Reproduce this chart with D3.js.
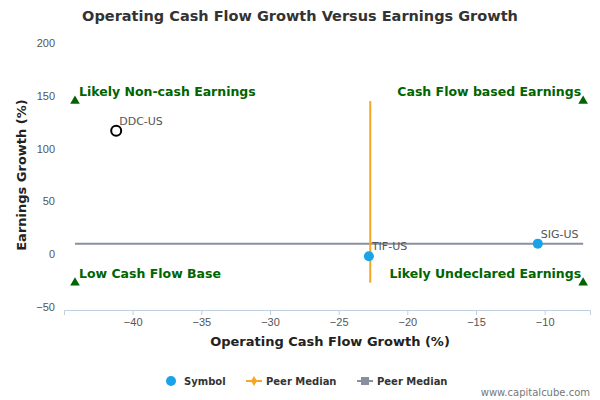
<!DOCTYPE html>
<html><head><meta charset="utf-8">
<script src="https://cdn.jsdelivr.net/npm/d3@7"></script>
<style>body{margin:0;background:#fff;font-family:"DejaVu Sans",sans-serif;}</style>
</head><body><div id="chart"></div>
<script>
var symbols = ["DDC-US", "TIF-US", "SIG-US"];
var cashGrowth = [-41.2, -22.8, -10.5];
var earnGrowth = [117, -2, 10];
var peerX = -22.7, peerY = 10;
var xTicks = [-40, -35, -30, -25, -20, -15, -10];
var yTicks = [-50, 0, 50, 100, 150, 200];
var quadLabels = ["Likely Non-cash Earnings", "Cash Flow based Earnings", "Low Cash Flow Base", "Likely Undeclared Earnings"];
var quadX = [-44.2, -7.2, -44.2, -7.2];
var quadY = [145, 145, -27, -27];

var width = 600, height = 400;
var svg = d3.select("#chart").append("svg").attr("width", width).attr("height", height);
var x = d3.scaleLinear().domain([-45, -6.7]).range([64, 590]);
var y = d3.scaleLinear().domain([-50, 200]).range([307, 43]);
var green = "#006400";

svg.append("text").attr("x", 300).attr("y", 21).attr("text-anchor", "middle")
    .attr("font-size", 14.5).attr("font-weight", "600").attr("fill", "#333").text("Operating Cash Flow Growth Versus Earnings Growth");

// axes
var xa = svg.append("g").attr("transform", "translate(0,310)")
    .call(d3.axisBottom(x).tickValues(xTicks).tickSize(5));
xa.select(".domain").attr("stroke", "#c0d0e0");
xa.selectAll(".tick line").attr("stroke", "#c0d0e0");
xa.selectAll("text").attr("font-size", 11).attr("fill", "#555");
var ya = svg.append("g").attr("transform", "translate(58,0)")
    .call(d3.axisLeft(y).tickValues(yTicks).tickSize(0));
ya.select(".domain").remove();
ya.selectAll("text").attr("font-size", 11).attr("fill", "#555");

svg.append("text").attr("x", 330).attr("y", 346).attr("text-anchor", "middle")
    .attr("font-size", 13).attr("font-weight", "bold").attr("fill", "#222").text("Operating Cash Flow Growth (%)");
svg.append("text").attr("transform", "translate(26,175) rotate(-90)").attr("text-anchor", "middle")
    .attr("font-size", 13).attr("font-weight", "bold").attr("fill", "#222").text("Earnings Growth (%)");

// peer medians
svg.append("line").attr("x1", x(-44.2)).attr("x2", x(-7.2)).attr("y1", y(peerY)).attr("y2", y(peerY))
    .attr("stroke", "#8a8f9f").attr("stroke-width", 2);
svg.append("line").attr("x1", x(peerX)).attr("x2", x(peerX)).attr("y1", y(145)).attr("y2", y(-27))
    .attr("stroke", "#f5a623").attr("stroke-width", 2);

// quadrant markers
quadLabels.forEach(function(t, i) {
    var px = x(quadX[i]), py = y(quadY[i]);
    svg.append("path").attr("d", d3.symbol().type(d3.symbolTriangle).size(40)())
        .attr("transform", "translate(" + px + "," + py + ")").attr("fill", green);
    svg.append("text").attr("x", i % 2 == 0 ? px + 4 : px - 2).attr("y", py - 5)
        .attr("text-anchor", i % 2 == 0 ? "start" : "end")
        .attr("font-size", 12.5).attr("font-weight", "bold").attr("fill", green).text(t);
});

// points
symbols.forEach(function(s, i) {
    var px = x(cashGrowth[i]), py = y(earnGrowth[i]);
    if (i == 0) {
        svg.append("circle").attr("cx", px).attr("cy", py).attr("r", 5)
            .attr("fill", "#fff").attr("stroke", "#000").attr("stroke-width", 2);
    } else {
        svg.append("circle").attr("cx", px).attr("cy", py).attr("r", 5).attr("fill", "#1aa3e8");
    }
    svg.append("text").attr("x", px + 3).attr("y", py - 6).attr("font-size", 11).attr("fill", "#555").text(s);
});

// legend
var lg = svg.append("g").attr("font-size", 10).attr("font-weight", "bold").attr("fill", "#333");
lg.append("circle").attr("cx", 171).attr("cy", 381).attr("r", 5).attr("fill", "#1aa3e8");
lg.append("text").attr("x", 184).attr("y", 385).text("Symbol");
lg.append("line").attr("x1", 246).attr("x2", 262).attr("y1", 381).attr("y2", 381).attr("stroke", "#f5a623").attr("stroke-width", 2);
lg.append("path").attr("d", d3.symbol().type(d3.symbolDiamond).size(30)()).attr("transform", "translate(254,381)").attr("fill", "#f5a623");
lg.append("text").attr("x", 266).attr("y", 385).text("Peer Median");
lg.append("line").attr("x1", 357).attr("x2", 373).attr("y1", 381).attr("y2", 381).attr("stroke", "#8a8f9f").attr("stroke-width", 2);
lg.append("rect").attr("x", 361).attr("y", 377).attr("width", 8).attr("height", 8).attr("fill", "#8a8f9f");
lg.append("text").attr("x", 377).attr("y", 385).text("Peer Median");

svg.append("text").attr("x", 590).attr("y", 396).attr("text-anchor", "end").attr("font-size", 10)
    .attr("fill", "#777").text("www.capitalcube.com");
</script></body></html>
